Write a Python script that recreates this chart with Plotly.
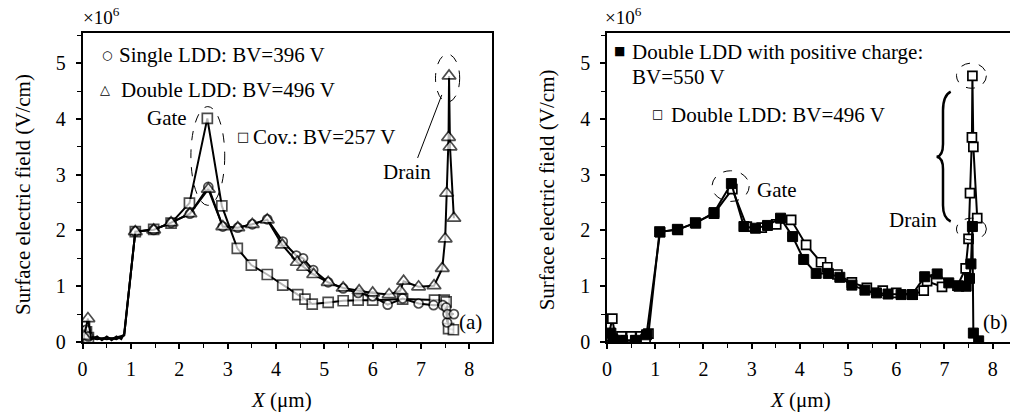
import plotly.graph_objects as go

# ---------------- data ----------------
# Panel (a)
single_x = [0.03, 0.07, 0.12, 0.30, 0.50, 0.70, 0.86, 1.09, 1.47, 1.83, 2.22, 2.60, 2.90, 3.21, 3.51,
            3.82, 4.14, 4.42, 4.56, 4.77, 5.08, 5.39, 5.70, 6.00, 6.31, 6.62, 6.95, 7.26, 7.45, 7.52,
            7.54, 7.55, 7.68]
single_y = [0.15, 0.22, 0.10, 0.08, 0.05, 0.08, 0.12, 1.98, 2.01, 2.14, 2.30, 2.78, 2.07, 2.05, 2.11,
            2.20, 1.80, 1.55, 1.50, 1.29, 1.07, 0.96, 0.88, 0.82, 0.67, 0.78, 0.69, 0.66, 0.66, 0.62,
            0.35, 0.50, 0.50]

double_x = [0.03, 0.11, 0.18, 0.30, 0.40, 0.50, 0.60, 0.70, 0.80, 0.86, 1.09, 1.47, 1.83, 2.22, 2.60,
            2.90, 3.21, 3.51, 3.82, 4.13, 4.44, 4.57, 4.78, 5.08, 5.39, 5.72, 6.00, 6.34, 6.57, 6.64,
            6.95, 7.27, 7.44, 7.50, 7.53, 7.57, 7.58, 7.60, 7.68]
double_y = [0.10, 0.42, 0.05, 0.10, 0.03, 0.10, 0.03, 0.10, 0.05, 0.15, 1.98, 2.01, 2.14, 2.30, 2.74,
            2.07, 2.05, 2.11, 2.19, 1.74, 1.43, 1.34, 1.21, 1.07, 0.97, 0.92, 0.88, 0.85, 0.92, 1.09,
            0.99, 1.01, 1.32, 1.85, 2.67, 3.67, 4.77, 3.50, 2.22]

cov_x = [0.04, 0.08, 0.12, 0.30, 0.50, 0.70, 0.86, 1.09, 1.47, 1.83, 2.21, 2.58, 2.88, 3.20, 3.49,
         3.82, 4.14, 4.45, 4.60, 4.75, 5.08, 5.39, 5.70, 6.00, 6.62, 7.28, 7.48, 7.52, 7.57, 7.67]
cov_y = [0.28, 0.18, 0.08, 0.05, 0.08, 0.05, 0.12, 1.98, 2.02, 2.13, 2.49, 4.01, 2.44, 1.68, 1.38,
         1.21, 1.02, 0.85, 0.77, 0.68, 0.71, 0.74, 0.75, 0.75, 0.77, 0.75, 0.75, 0.72, 0.24, 0.22]

# Panel (b)
pos_x = [0.08, 0.12, 0.32, 0.59, 0.82, 1.10, 1.46, 1.84, 2.22, 2.58, 2.84, 3.08, 3.33, 3.60, 3.85,
         4.08, 4.34, 4.59, 4.83, 5.08, 5.35, 5.59, 5.83, 6.10, 6.33, 6.59, 6.85, 7.09, 7.30, 7.45,
         7.52, 7.55, 7.58, 7.60, 7.71]
pos_y = [0.16, 0.05, 0.03, 0.03, 0.13, 1.97, 2.02, 2.13, 2.32, 2.84, 2.07, 2.04, 2.09, 2.22, 1.89,
         1.48, 1.23, 1.23, 1.16, 1.02, 0.93, 0.88, 0.86, 0.85, 0.85, 1.17, 1.22, 1.06, 1.00, 1.00,
         1.14, 1.40, 2.07, 0.16, 0.02]

x_ticks = [0, 1, 2, 3, 4, 5, 6, 7, 8]
y_ticks = [0, 1, 2, 3, 4, 5]

# ---------------- styling ----------------
FONT = "Liberation Serif, Times New Roman, serif"
BLACK = "#000000"
W, H = 1011, 416
HR = 405.0   # effective drawn height used for paper-coordinate placement

def py(p):
    return 1 - p / HR

fig = go.Figure()

def hide_baseline(xs, ys):
    return [0 if (0.15 < x < 0.95 and y < 0.2) else 1 for x, y in zip(xs, ys)]

def sizes(xs, ys, s):
    return [s * k for k in hide_baseline(xs, ys)]

MLW = 1.7
# Panel (a)
fig.add_trace(go.Scatter(x=cov_x, y=cov_y, mode="lines+markers", xaxis="x", yaxis="y",
                         line=dict(color=BLACK, width=2),
                         marker=dict(symbol="square", size=sizes(cov_x, cov_y, 10), color="white",
                                     line=dict(color=BLACK, width=MLW)),
                         name="Cov.: BV=257 V", showlegend=False))
fig.add_trace(go.Scatter(x=single_x, y=single_y, mode="lines+markers", xaxis="x", yaxis="y",
                         line=dict(color=BLACK, width=2),
                         marker=dict(symbol="circle", size=sizes(single_x, single_y, 9), color="white",
                                     line=dict(color=BLACK, width=MLW)),
                         name="Single LDD: BV=396 V", showlegend=False))
fig.add_trace(go.Scatter(x=double_x, y=double_y, mode="lines+markers", xaxis="x", yaxis="y",
                         line=dict(color=BLACK, width=2),
                         marker=dict(symbol="triangle-up", size=sizes(double_x, double_y, 12), color="white",
                                     line=dict(color=BLACK, width=MLW)),
                         name="Double LDD: BV=496 V", showlegend=False))

# Panel (b)
fig.add_trace(go.Scatter(x=double_x, y=double_y, mode="lines+markers", xaxis="x2", yaxis="y2",
                         line=dict(color=BLACK, width=2),
                         marker=dict(symbol="square", size=9, color="white",
                                     line=dict(color=BLACK, width=MLW)),
                         name="Double LDD: BV=496 V", showlegend=False))
fig.add_trace(go.Scatter(x=pos_x, y=pos_y, mode="lines+markers", xaxis="x2", yaxis="y2",
                         line=dict(color=BLACK, width=2),
                         marker=dict(symbol="square", size=10, color=BLACK,
                                     line=dict(color=BLACK, width=1)),
                         name="Double LDD with positive charge: BV=550 V", showlegend=False))

tickfont = dict(family=FONT, size=20, color=BLACK)

def xaxis(domain, rng, anchor):
    return dict(domain=domain, range=rng, anchor=anchor, tickmode="array", tickvals=x_ticks,
                ticks="outside", ticklen=5, tickwidth=1.5, tickcolor=BLACK,
                minor=dict(dtick=0.5, tick0=0, ticks="outside", ticklen=4, tickwidth=1.3, tickcolor=BLACK),
                showline=True, linecolor=BLACK, linewidth=1.5, mirror=True,
                showgrid=False, zeroline=False, tickfont=tickfont, ticklabelstandoff=3)

def yaxis(domain, rng, anchor, mirror):
    return dict(domain=domain, range=rng, anchor=anchor, tickmode="array", tickvals=y_ticks,
                ticks="outside", ticklen=5, tickwidth=1.5, tickcolor=BLACK,
                minor=dict(dtick=0.5, tick0=0, ticks="outside", ticklen=4, tickwidth=1.3, tickcolor=BLACK),
                showline=True, linecolor=BLACK, linewidth=1.5, mirror=mirror,
                showgrid=False, zeroline=False, tickfont=tickfont, ticklabelstandoff=6)

ydom = [py(342), py(33)]
fig.update_layout(
    width=W, height=H, margin=dict(l=0, r=0, t=0, b=0), autosize=False,
    paper_bgcolor="white", plot_bgcolor="white",
    xaxis=xaxis([78 / W, 489 / W], [0, 8.46], "y"),
    yaxis=yaxis(ydom, [0, 5.54], "x", True),
    xaxis2=xaxis([605 / W, 1010 / W], [0, 8.36], "y2"),
    yaxis2=yaxis(ydom, [0, 5.54], "x2", False),
    font=dict(family=FONT, color=BLACK),
)

ann = []
def txt(text, x, y, xref, yref, size=21, xanchor="center", yanchor="middle", angle=0):
    ann.append(dict(text=text, x=x, y=y, xref=xref, yref=yref, showarrow=False,
                    font=dict(family=FONT, size=size, color=BLACK),
                    xanchor=xanchor, yanchor=yanchor, textangle=angle))

# axis titles and multipliers
txt("Surface electric field (V/cm)", 18 / W, py(194), "paper", "paper", angle=-90)
txt("Surface electric field (V/cm)", 545 / W, py(190), "paper", "paper", angle=-90)
txt("<i>X</i> (μm)", 278 / W, py(400), "paper", "paper")
txt("<i>X</i> (μm)", 799 / W, py(400), "paper", "paper")
txt("×10<sup>6</sup>", 76 / W, py(16), "paper", "paper", size=19, xanchor="left")
txt("×10<sup>6</sup>", 601 / W, py(16), "paper", "paper", size=19, xanchor="left")

# legend-like labels, panel (a)
GLYPH = "DejaVu Sans"
def glyph(ch, x, y, xref, yref, size):
    ann.append(dict(text=ch, x=x, y=y, xref=xref, yref=yref, showarrow=False,
                    font=dict(family=GLYPH, size=size, color=BLACK), xanchor="center", yanchor="middle"))

glyph("○", 0.50, 5.14, "x", "y", 12)
txt("Single LDD: BV=396 V", 0.72, 5.14, "x", "y", xanchor="left")
glyph("△", 0.47, 4.53, "x", "y", 13)
txt("Double LDD: BV=496 V", 0.75, 4.52, "x", "y", xanchor="left")
glyph("□", 3.32, 3.68, "x", "y", 13)
txt("Cov.: BV=257 V", 3.49, 3.67, "x", "y", xanchor="left")
txt("Gate", 1.74, 4.01, "x", "y")
txt("Drain", 6.70, 3.05, "x", "y")
txt("(a)", 8.03, 0.36, "x", "y")

# panel (b)
glyph("■", 0.25, 5.22, "x2", "y2", 12)
txt("Double LDD with positive charge:", 0.47, 5.20, "x2", "y2", xanchor="left")
txt("BV=550 V", 0.47, 4.75, "x2", "y2", xanchor="left")
glyph("□", 1.05, 4.08, "x2", "y2", 12)
txt("Double LDD: BV=496 V", 1.28, 4.07, "x2", "y2", xanchor="left")
txt("Gate", 3.08, 2.72, "x2", "y2", xanchor="left")
txt("Drain", 6.35, 2.19, "x2", "y2")
txt("(b)", 8.06, 0.36, "x2", "y2")

fig.update_layout(annotations=ann)

# ellipses, pointer line, brace
ell = dict(color=BLACK, width=1, dash="dash")
fig.add_shape(type="circle", xref="x", yref="y", x0=2.24, x1=2.94, y0=2.45, y1=4.22, line=ell)
fig.add_shape(type="circle", xref="x", yref="y", x0=7.30, x1=7.80, y0=4.30, y1=5.16, line=ell)
fig.add_shape(type="line", xref="x", yref="y", x0=6.93, y0=3.30, x1=7.43, y1=4.43,
              line=dict(color=BLACK, width=1))
fig.add_shape(type="circle", xref="x2", yref="y2", x0=2.18, x1=2.95, y0=2.52, y1=3.07, line=ell)
fig.add_shape(type="circle", xref="x2", yref="y2", x0=7.25, x1=7.87, y0=4.55, y1=5.00, line=ell)
fig.add_shape(type="circle", xref="x2", yref="y2", x0=7.25, x1=7.87, y0=1.83, y1=2.22, line=ell)
fig.add_shape(type="path", xref="x2", yref="y2",
              path="M 7.13,4.49 Q 6.97,4.42 6.97,4.15 L 6.97,3.55 Q 6.97,3.34 6.84,3.32 "
                   "Q 6.97,3.30 6.97,3.10 L 6.97,2.45 Q 6.97,2.22 7.13,2.16",
              line=dict(color=BLACK, width=2.5))

post = ("var d=document.getElementById('{plot_id}');"
        "d.style.position='fixed';d.style.top='0px';d.style.left='0px';"
        "document.body.style.margin='0';document.body.style.padding='0';"
        "document.documentElement.style.overflow='hidden';document.body.style.overflow='hidden';")

fig.write_html("out.html", config={"displayModeBar": False, "responsive": False},
               post_script=post)
